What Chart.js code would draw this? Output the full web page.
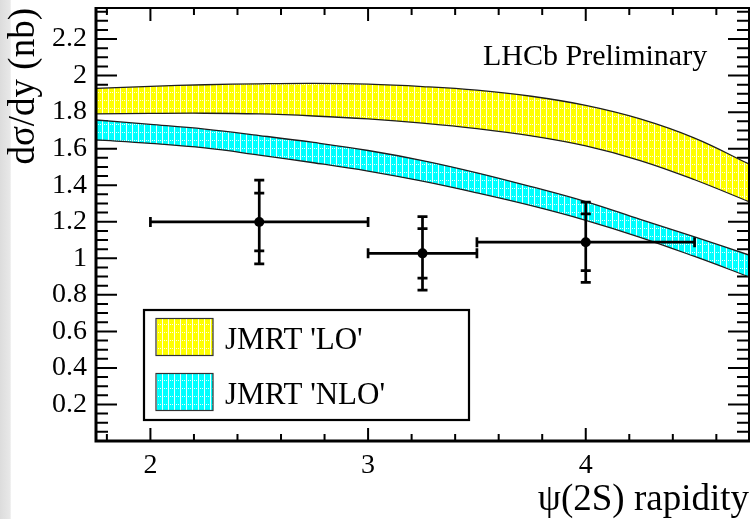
<!DOCTYPE html>
<html><head><meta charset="utf-8">
<script src="https://cdn.jsdelivr.net/npm/chart.js@4.4.1/dist/chart.umd.min.js"></script>
<style>
html,body{margin:0;padding:0;}
body{width:754px;height:519px;overflow:hidden;background:linear-gradient(to right,#dcdcdc 0px,#e8e8e8 10px,#ffffff 11.5px);}
canvas{display:block;}
</style></head><body>
<canvas id="c" width="754" height="519"></canvas>
<script>
// ---- data ----
const bandX    = [1.75, 2.0, 2.25, 2.5, 2.75, 3.0, 3.25, 3.5, 3.75, 4.0, 4.25, 4.5, 4.75];
const loUpper  = [1.930, 1.941, 1.950, 1.955, 1.957, 1.953, 1.940, 1.920, 1.887, 1.837, 1.763, 1.658, 1.516];
const loLower  = [1.790, 1.793, 1.794, 1.790, 1.779, 1.763, 1.740, 1.710, 1.670, 1.615, 1.535, 1.430, 1.310];
const nloUpper = [1.757, 1.733, 1.707, 1.672, 1.634, 1.590, 1.535, 1.468, 1.392, 1.310, 1.213, 1.117, 1.018];
const nloLower = [1.648, 1.629, 1.604, 1.565, 1.523, 1.477, 1.422, 1.358, 1.288, 1.208, 1.115, 1.010, 0.899];

const ptX       = [2.5, 3.25, 4.0];
const ptXLo     = [2.0, 3.0, 3.5];
const ptXHi     = [3.0, 3.5, 4.5];
const ptY       = [1.199, 1.027, 1.088];
const ptStatErr = [0.158, 0.135, 0.155];
const ptTotErr  = [0.229, 0.201, 0.220];

const xTickValues = [2, 3, 4];
const xTickLabels = ['2', '3', '4'];
const yTickValues = [0.2, 0.4, 0.6, 0.8, 1.0, 1.2, 1.4, 1.6, 1.8, 2.0, 2.2];
const yTickLabels = ['0.2', '0.4', '0.6', '0.8', '1', '1.2', '1.4', '1.6', '1.8', '2', '2.2'];
const seriesNames = ["JMRT 'LO'", "JMRT 'NLO'"];
const xTitle = 'ψ(2S) rapidity';
const yTitle = 'dσ/dy (nb)';
const noteText = 'LHCb Preliminary';

const X_MIN = 1.75, X_MAX = 4.75, Y_MIN = 0, Y_MAX = 2.37;
const X_MINOR = 0.2, Y_MINOR = 0.05;
const FONT = '"Liberation Serif", "Times New Roman", serif';

const canvas = document.getElementById('c');
const mainCtx = canvas.getContext('2d');
function hatch(color) {
  const c = document.createElement('canvas');
  c.width = 6; c.height = 8;
  const g = c.getContext('2d');
  g.fillStyle = color; g.fillRect(0, 0, 6, 8);
  g.fillStyle = 'rgba(255,255,255,0.9)';
  g.fillRect(0, 0, 1, 8);
  for (let x = 2; x < 6; x += 2) g.fillRect(x, 4, 1, 1);
  return mainCtx.createPattern(c, 'repeat');
}
const yellowPat = hatch('#ffff00');
const cyanPat = hatch('#00ffff');
const bandColors = [yellowPat, cyanPat];

const pts = (xs, ys) => xs.map((x, i) => ({x, y: ys[i]}));
const lineBase = {borderColor: '#1e1e1e', borderWidth: 1.3, pointRadius: 0, tension: 0.4};

const axisTicks = {
  id: 'axisTicks',
  beforeDraw(chart) {
    const {ctx, chartArea: a, scales: {x, y}} = chart;
    ctx.save();
    ctx.strokeStyle = '#000'; ctx.lineWidth = 2;
    ctx.beginPath();
    const x0 = Math.ceil(X_MIN / X_MINOR - 1e-6) * X_MINOR;
    for (let k = 0; ; k++) {
      const v = x0 + k * X_MINOR;
      if (v > X_MAX - 1e-6) break;
      const major = Math.abs(v - Math.round(v)) < 1e-6;
      const L = major ? 13 : 7;
      const p = x.getPixelForValue(v);
      ctx.moveTo(p, a.bottom); ctx.lineTo(p, a.bottom - L);
      ctx.moveTo(p, a.top); ctx.lineTo(p, a.top + L);
    }
    for (let k = 1; ; k++) {
      const v = k * Y_MINOR;
      if (v > Y_MAX - 1e-6) break;
      const major = k % 4 === 0;
      const L = major ? 21 : 12;
      const p = y.getPixelForValue(v);
      ctx.moveTo(a.left, p); ctx.lineTo(a.left + L, p);
      ctx.moveTo(a.right, p); ctx.lineTo(a.right - L, p);
    }
    ctx.stroke();
    ctx.restore();
  },
  afterDatasetsDraw(chart) {
    const {ctx, chartArea: a} = chart;
    ctx.save();
    ctx.strokeStyle = '#000';
    ctx.lineWidth = 2;
    ctx.beginPath();
    ctx.moveTo(a.left, a.top); ctx.lineTo(a.right, a.top); ctx.lineTo(a.right, a.bottom);
    ctx.stroke();
    ctx.lineWidth = 3;
    ctx.beginPath();
    ctx.moveTo(a.left, a.top - 1); ctx.lineTo(a.left, a.bottom); ctx.lineTo(a.right + 1, a.bottom);
    ctx.stroke();
    ctx.restore();
  }
};

const errBars = {
  id: 'errBars',
  afterDatasetsDraw(chart) {
    const {ctx, scales: {x, y}} = chart;
    ctx.save();
    ctx.strokeStyle = '#000'; ctx.lineWidth = 2.7;
    ptX.forEach((xv, i) => {
      const px = x.getPixelForValue(xv), py = y.getPixelForValue(ptY[i]);
      const xl = x.getPixelForValue(ptXLo[i]), xh = x.getPixelForValue(ptXHi[i]);
      const yt = y.getPixelForValue(ptY[i] + ptTotErr[i]), yb = y.getPixelForValue(ptY[i] - ptTotErr[i]);
      const st = y.getPixelForValue(ptY[i] + ptStatErr[i]), sb = y.getPixelForValue(ptY[i] - ptStatErr[i]);
      const c = 5;
      ctx.beginPath();
      ctx.moveTo(xl, py); ctx.lineTo(xh, py);
      ctx.moveTo(px, yt); ctx.lineTo(px, yb);
      [yt, yb, st, sb].forEach(v => { ctx.moveTo(px - c, v); ctx.lineTo(px + c, v); });
      [xl, xh].forEach(v => { ctx.moveTo(v, py - c); ctx.lineTo(v, py + c); });
      ctx.stroke();
    });
    ctx.restore();
  }
};

const overlay = {
  id: 'overlay',
  afterDraw(chart) {
    const {ctx} = chart;
    ctx.save();
    ctx.fillStyle = '#fff';
    ctx.fillRect(144, 310, 325, 110);
    ctx.strokeStyle = '#000'; ctx.lineWidth = 2.2;
    ctx.strokeRect(144, 310, 325, 110);
    const rows = [318.5, 373.5];
    rows.forEach((ry, i) => {
      ctx.fillStyle = bandColors[i];
      ctx.fillRect(156, ry, 57, 37);
      ctx.strokeStyle = '#333'; ctx.lineWidth = 1.2;
      ctx.strokeRect(156, ry, 57, 37);
      ctx.fillStyle = '#000';
      ctx.font = '31px ' + FONT;
      ctx.textBaseline = 'alphabetic'; ctx.textAlign = 'left';
      ctx.fillText(seriesNames[i], 225, ry + 30);
    });
    ctx.font = '30px ' + FONT;
    ctx.fillStyle = '#000';
    ctx.fillText(noteText, 483, 65);
    ctx.restore();
  }
};

new Chart(canvas, {
  type: 'line',
  data: {
    datasets: [
      {...lineBase, data: pts(bandX, loUpper), fill: false},
      {...lineBase, data: pts(bandX, loLower), fill: '-1', backgroundColor: yellowPat},
      {...lineBase, data: pts(bandX, nloUpper), fill: false},
      {...lineBase, data: pts(bandX, nloLower), fill: '-1', backgroundColor: cyanPat},
      {data: pts(ptX, ptY), showLine: false, pointRadius: 5, pointBackgroundColor: '#000', pointBorderColor: '#000', pointBorderWidth: 0, fill: false}
    ]
  },
  options: {
    responsive: false,
    animation: false,
    devicePixelRatio: 1,
    layout: {padding: {top: 8, right: 2, left: 0, bottom: 0}},
    plugins: {legend: {display: false}, tooltip: {enabled: false}, filler: {drawTime: 'beforeDatasetsDraw'}},
    scales: {
      x: {
        type: 'linear', min: X_MIN, max: X_MAX,
        grid: {display: false, drawTicks: false}, border: {display: false},
        afterBuildTicks: s => { s.ticks = xTickValues.map(v => ({value: v})); },
        afterFit: s => { s.height = 78; s.paddingLeft = 0; s.paddingRight = 0; },
        ticks: {callback: (v, i) => xTickLabels[i], color: '#000', font: {family: FONT, size: 28}, padding: 8, maxRotation: 0, autoSkip: false},
        title: {display: true, text: xTitle, align: 'end', color: '#000', font: {family: FONT, size: 37, lineHeight: 1}, padding: {top: 0, bottom: 0}}
      },
      y: {
        type: 'linear', min: Y_MIN, max: Y_MAX,
        grid: {display: false, drawTicks: false}, border: {display: false},
        afterBuildTicks: s => { s.ticks = yTickValues.map(v => ({value: v})); },
        afterFit: s => { s.width = 96; s.paddingTop = 0; s.paddingBottom = 0; },
        ticks: {callback: (v, i) => yTickLabels[i], color: '#000', font: {family: FONT, size: 28}, padding: 9, autoSkip: false},
        title: {display: true, text: yTitle, align: 'end', color: '#000', font: {family: FONT, size: 37, lineHeight: 1}, padding: {top: 6, bottom: 0}}
      }
    }
  },
  plugins: [axisTicks, errBars, overlay]
});
</script>
</body></html>
